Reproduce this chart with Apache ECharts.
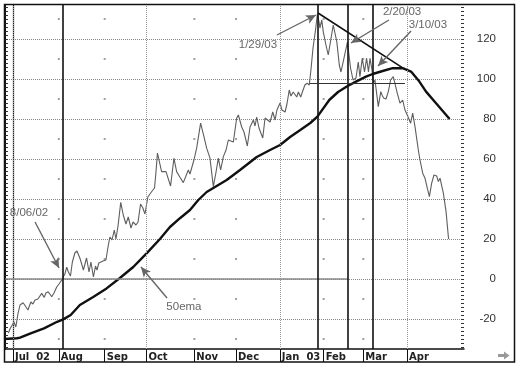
<!DOCTYPE html>
<html><head><meta charset="utf-8">
<script src="https://cdn.jsdelivr.net/npm/echarts@6/dist/echarts.min.js"></script>
<style>html,body{margin:0;padding:0;background:#fff}#c{width:516px;height:367px}</style>
</head><body><div id="c"></div>
<script>
// x = trading-day index counted from 1 Jul 2002
const monthStarts = [0, 22, 44, 64, 87, 107, 128, 149, 168, 189];
const monthNames = ['Jul  02', 'Aug', 'Sep', 'Oct', 'Nov', 'Dec', 'Jan  03', 'Feb', 'Mar', 'Apr'];
const quarterStarts = [0, 64, 128, 189];
const yTicks = [-20, 0, 20, 40, 60, 80, 100, 120];
const minorTicks = [-34,-32,-30,-28,-26,-24,-22,-20,-18,-16,-14,-12,-10,-8,-6,-4,-2,0,2,4,6,8,10,12,14,16,18,20,22,24,26,28,30,32,34,36,38,40,42,44,46,48,50,52,54,56,58,60,62,64,66,68,70,72,74,76,78,80,82,84,86,88,90,92,94,96,98,100,102,104,106,108,110,112,114,116,118,120,122,124,126,128,130,132,134,136];
const dotMonths = [22, 44, 87, 107, 149, 168];
const dotLevels = [130, 110, 90, 70, 50, 30, 10, -10, -30];

const price = [
[-2.2,-27],[-1.2,-24.5],[-0.5,-25.5],[0.5,-21.5],[1.4,-24],[2.4,-17.5],[3.4,-13],[4.9,-11.9],[6.2,-13.9],[7.2,-15.5],
[8.6,-11.5],[9.6,-12.5],[10.6,-10.5],[12.0,-10],[13.8,-7.2],[15.0,-9.2],[15.8,-7],[16.9,-6.4],[17.7,-7.5],[18.6,-8.9],
[19.7,-7],[21.0,-4],[22.1,-2.5],[23.4,-0.5],[24.1,1],[24.9,2.5],[25.8,5.9],[26.6,3.5],[27.6,1.5],[28.5,8.5],
[29.7,13],[30.7,14],[32.1,10.5],[33.1,7],[33.8,4.5],[35.3,10.5],[36.5,3.5],[37.4,8.5],[38.6,1],[39.6,6.5],
[40.3,4.5],[41.2,8],[43.2,9],[44.6,9.5],[45.6,16],[46.5,21],[47.5,19.5],[48.6,24.5],[49.4,20],[50.4,26.5],
[51.7,38.3],[52.9,32],[54.2,27.5],[55.3,31],[56.6,25.5],[57.6,28.5],[59.0,27],[60.0,28.5],[61.2,37.5],[62.3,35.5],
[63.3,32.5],[64.7,41],[66.4,43.5],[67.9,45.5],[68.6,53.5],[69.3,63],[70.2,63],[71.3,53.7],[73.4,53.7],[74.3,53.5],
[75.6,46.5],[77.2,60.4],[78.5,53.7],[80.1,50.9],[81.7,48.2],[82.5,47.5],[84.1,54.5],[84.9,52.5],[86.8,59.5],[88.1,65.4],
[90.0,77.9],[91.6,71.2],[92.9,65.4],[94.5,60.4],[96.1,46.2],[97.4,53.5],[98.5,60.4],[99.6,54.5],[100.9,61.2],[102.2,64.5],
[103.3,69.5],[104.1,70.5],[105.7,68.5],[107.3,80.5],[108.1,82],[109.7,76],[110.8,73.5],[112.4,66.5],[113.7,76],[115.3,79.5],
[116.1,76.5],[116.9,81],[118.0,75.5],[119.8,70.5],[120.9,80.5],[121.8,79.5],[123.3,78.5],[124.6,83.5],[125.7,79.5],[126.6,84.5],
[128.1,88],[129.0,84.5],[130.5,83.5],[131.4,87.5],[132.5,94.5],[133.3,91.5],[134.4,93.5],[136.1,91],[136.9,93.5],[138.0,91],
[138.8,93.5],[140.0,97],[141.1,97.9],[142.1,97],[142.9,104.5],[143.9,115.5],[145.1,124.5],[146.0,132.5],[146.8,128.5],[147.2,125.5],
[148.1,129.5],[148.8,123.7],[150.1,117],[151.2,112],[152.0,113],[153.6,127],[154.4,127.9],[155.3,118.7],[156.5,107],[157.3,103.5],
[158.9,111.2],[160.4,118.5],[161.9,105.5],[163.1,99.5],[164.5,100.5],[165.6,108.5],[166.4,101.2],[167.5,110.4],[168.6,103.5],[169.6,110.4],
[170.5,103.5],[171.2,110.4],[172.2,104.5],[172.8,97.9],[173.6,99.5],[175.2,86.2],[176.4,93.7],[177.2,91.5],[177.9,90.4],[178.9,90],
[180.0,93.7],[181.1,99.5],[182.4,101.2],[183.2,100.4],[184.3,92.9],[185.6,87.9],[186.9,89.5],[188.0,84.5],[189.1,82],[190.7,77.9],
[191.7,82.9],[192.8,76.2],[194.4,64.5],[195.2,59.5],[196.5,52.9],[197.6,50.4],[198.7,45.4],[199.7,41.2],[200.8,47.9],[201.9,52],
[203.2,51.5],[204.0,48.7],[204.8,50.4],[206.4,42.9],[207.7,33.7],[208.9,20]
];

const ema50 = [
[-4.3,-30],[1.9,-29.6],[3.4,-29.3],[8.5,-27.2],[14.9,-24.7],[21.2,-21.4],[24.1,-20.2],[27.7,-18],[32.1,-13],[38.5,-9],
[44.9,-4.7],[51.3,0.5],[57.7,6],[64.1,12.8],[70.5,20],[75.3,26],[80.1,30.4],[84.9,34.5],[88.9,39.5],[92.9,43.5],
[96.9,46],[102.5,49.5],[108.9,54.5],[116.9,61],[123.3,64.5],[128.1,67],[132.9,71],[137.8,74.5],[142.6,78],[146.0,81.2],
[151.7,89.5],[155.9,93.5],[160.5,96.5],[164.5,98.7],[169.3,101.2],[172.5,102.5],[177.3,104],[182.1,105.4],[186.9,105.4],[190.9,103.7],
[194.9,98.7],[198.1,93.7],[202.9,87.9],[209.4,80]
];

const eventDays = [24, 146.3, 160.7, 172.7];
const trendLine = [[146.3, 133], [187.1, 105.4]];
const supportLine = [[142.4, 98], [188, 98]];
const zeroSolid = [[-3.8, 0], [160.7, 0]];
const notes = [
  {text: '8/06/02', at: [7.7, 33],    from: [10.6, 28.5],  to: [22.1, 5.5]},
  {text: '50ema',   at: [82, -14],    from: [73.9, -9.5],  to: [61.4, 6]},
  {text: '1/29/03', at: [117.5, 117], from: [126.6, 122],  to: [145.3, 132]},
  {text: '2/20/03', at: [186.6, 133.5], from: [180.3, 129.5], to: [162.1, 118]},
  {text: '3/10/03', at: [199, 127],   from: [190.9, 124],  to: [175.1, 106.5]}
];

const X_MIN = -3.8, X_MAX = 216.3, Y_MIN = -35, Y_MAX = 137;
const dots = [];
dotMonths.forEach(m => dotLevels.forEach(v => dots.push([m, v])));

const chart = echarts.init(document.getElementById('c'), null, {renderer: 'canvas'});
const font = 'Liberation Sans, Arial, Helvetica, sans-serif';
const minorAxis = (pos, withLine) => ({
  type: 'value', position: pos, min: Y_MIN, max: Y_MAX,
  axisLine: {show: withLine, lineStyle: {color: '#111', width: 2}},
  axisLabel: {show: false}, splitLine: {show: false},
  axisTick: {show: true, inside: true, length: 3, customValues: minorTicks, lineStyle: {color: '#333', width: 1}}
});
chart.setOption({
  animation: false,
  backgroundColor: '#fff',
  grid: {left: 5, top: 5, width: 459, height: 344, containLabel: false},
  xAxis: {
    type: 'value', min: X_MIN, max: X_MAX,
    axisLine: {show: true, onZero: false, lineStyle: {color: '#111', width: 1.5}},
    axisTick: {show: true, customValues: monthStarts, length: 13, lineStyle: {color: '#111', width: 1}},
    axisLabel: {
      show: true, customValues: monthStarts, align: 'left', margin: 3, padding: [0, 0, 0, 2],
      fontSize: 10, fontWeight: 'bold', fontFamily: 'DejaVu Sans', color: '#222',
      formatter: v => monthNames[monthStarts.indexOf(v)] || ''
    },
    splitLine: {show: false}
  },
  yAxis: [
    {
      type: 'value', position: 'right', min: Y_MIN, max: Y_MAX,
      axisLine: {show: true, lineStyle: {color: '#222', width: 1.2}},
      axisTick: {show: false, customValues: yTicks},
      axisLabel: {show: true, customValues: yTicks, align: 'right', margin: 32, fontSize: 11.5, fontFamily: font, color: '#333'},
      splitLine: {show: true, lineStyle: {color: '#888', type: 'dotted', width: 1}}
    },
    minorAxis('right', false),
    minorAxis('left', true)
  ],
  series: [
    {
      name: 'grid dots', type: 'scatter', data: dots, symbol: 'rect', symbolSize: 2, silent: true,
      itemStyle: {color: '#888'}, z: 1
    },
    {
      name: 'guides', type: 'line', data: [], silent: true,
      markLine: {
        silent: true, symbol: ['none', 'none'], label: {show: false}, animation: false,
        data: quarterStarts.map(q => ({xAxis: q, lineStyle: {color: '#999', type: 'dotted', width: 1}}))
          .concat([[{coord: zeroSolid[0]}, {coord: zeroSolid[1], lineStyle: {color: '#888', type: 'solid', width: 1.5}}]])
      },
      z: 2
    },
    {
      name: 'price', type: 'line', data: price, showSymbol: false, smooth: false,
      lineStyle: {color: '#5e5e5e', width: 1.1}, z: 3
    },
    {
      name: '50ema', type: 'line', data: ema50, showSymbol: false, smooth: false,
      lineStyle: {color: '#111', width: 2.4}, z: 4
    },
    {
      name: 'events', type: 'line', data: [], silent: true,
      markLine: {
        silent: true, symbol: ['none', 'none'], label: {show: false}, animation: false,
        lineStyle: {color: '#111', type: 'solid', width: 1.6},
        data: eventDays.map(d => ({xAxis: d}))
          .concat([
            [{coord: trendLine[0]}, {coord: trendLine[1]}],
            [{coord: supportLine[0], lineStyle: {color: '#333', width: 1.2}}, {coord: supportLine[1]}]
          ])
      },
      z: 5
    },
    {
      name: 'notes', type: 'line', data: [], silent: true,
      markLine: {
        silent: true, symbol: ['none', 'arrow'], symbolSize: [7, 10], label: {show: false}, animation: false,
        lineStyle: {color: '#666', type: 'solid', width: 1.4},
        data: notes.map(n => [{coord: n.from}, {coord: n.to}])
      },
      markPoint: {
        silent: true, animation: false,
        data: notes.map(n => ({
          coord: n.at, symbol: 'circle', symbolSize: 0, value: n.text,
          label: {show: true, position: 'inside', formatter: n.text, color: '#666', fontSize: 11.5, fontFamily: font}
        }))
      },
      z: 6
    }
  ],
  graphic: [
    {type: 'rect', shape: {x: 4.5, y: 4.5, width: 510, height: 357.5}, style: {fill: 'none', stroke: '#111', lineWidth: 1.5}, silent: true, z: 100},
    {type: 'polygon', shape: {points: [[498, 354], [504, 354], [504, 351.5], [509.5, 355.5], [504, 359.5], [504, 357], [498, 357]]}, style: {fill: '#999'}, silent: true, z: 100}
  ]
});
</script></body></html>
